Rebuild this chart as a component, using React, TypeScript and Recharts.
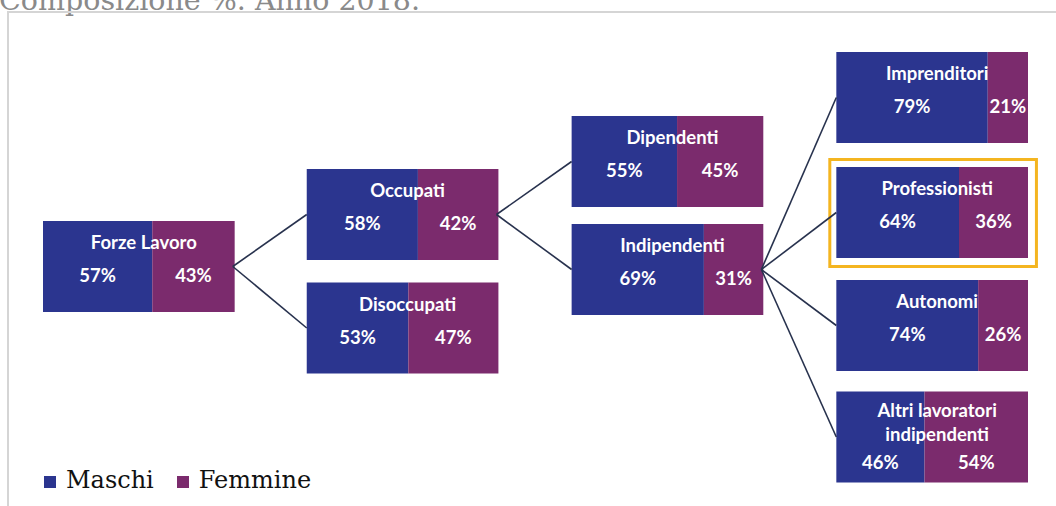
import React from 'react';
import { ComposedChart, XAxis, YAxis, Bar, ReferenceArea, ReferenceLine, Legend } from 'recharts';

// dati: composizione % per sesso, anno 2018
const categorie = [
  'Forze Lavoro', 'Occupati', 'Disoccupati', 'Dipendenti', 'Indipendenti',
  'Imprenditori', 'Professionisti', 'Autonomi', 'Altri lavoratori indipendenti',
];
const maschi = [57, 58, 53, 55, 69, 79, 64, 74, 46];
const femmine = [43, 42, 47, 45, 31, 21, 36, 26, 54];
const genitore = [-1, 0, 0, 1, 1, 4, 4, 4, 4];
const serie = ['Maschi', 'Femmine'];

// layout dello schema ad albero (unità degli assi)
const colonna = [0, 1, 1, 2, 2, 3, 3, 3, 3];
const inizioColonna = [0, 137.6, 275.8, 413.9];
const centroY = [266.5, 214.5, 328, 161.5, 269.5, 97.5, 212.5, 325.5, 437];
const ALTEZZA = 91;
const evidenziato = 6;

const BLU = '#2b358f';
const VIOLA = '#7b2b6d';
const FONT = 'Lato, "Open Sans", sans-serif';

const righe = (nome: string) => {
  const p = nome.split(' ');
  return nome.length > 16 ? [p.slice(0, 2).join(' '), p.slice(2).join(' ')] : [nome];
};

function Pct(props: any) {
  const { viewBox, value, dy } = props;
  const { x, y, width, height } = viewBox;
  return (
    <text x={x + width / 2} y={y + height / 2 + dy} textAnchor="middle" fill="#fff"
      fontFamily={FONT} fontWeight={700} fontSize={18.5}>{value}</text>
  );
}

function Nome(props: any) {
  const { viewBox, value } = props;
  const { x, y, width, height } = viewBox;
  const linee = righe(value);
  const off = linee.length > 1 ? [-20, 4] : [-17.5];
  return (
    <g>
      {linee.map((l, i) => (
        <text key={i} x={x + width / 2 + 5} y={y + height / 2 + off[i]} textAnchor="middle" fill="#fff"
          fontFamily={FONT} fontWeight={700} fontSize={18.5}>{l}</text>
      ))}
    </g>
  );
}

function LegendaContenuto(props: any) {
  const voci = [...(props.payload || [])].sort((a: any, b: any) => serie.indexOf(a.value) - serie.indexOf(b.value));
  return (
    <div style={{ display: 'flex', alignItems: 'center', fontFamily: '"DejaVu Serif", serif', fontSize: 24, color: '#111' }}>
      {voci.map((e: any) => (
        <div key={e.value} style={{ display: 'flex', alignItems: 'center', marginRight: 23 }}>
          <span style={{ width: 12, height: 12, background: e.color, display: 'inline-block', marginRight: 10, marginTop: 4 }} />
          <span>{e.value}</span>
        </div>
      ))}
    </div>
  );
}

export default function App() {
  return (
    <div style={{ position: 'absolute', left: 0, top: 0, width: 1056, height: 506, overflow: 'hidden', background: '#fff' }}>
      <div style={{ position: 'absolute', left: -1, top: -14.5, fontFamily: '"DejaVu Serif", serif', fontSize: 28.5, lineHeight: '29px', color: '#8a8a8a', whiteSpace: 'nowrap' }}>
        Composizione %. Anno 2018.
      </div>
      <div style={{ position: 'absolute', left: 7, top: 11, width: 1060, height: 510, borderTop: '2px solid #d5d5d5', borderLeft: '2px solid #d5d5d5' }} />
      <div style={{ position: 'absolute', left: 0, top: 0 }}>
        <ComposedChart width={1056} height={506} data={[]} margin={{ top: 0, right: 28, bottom: 0, left: 43 }}>
          <XAxis type="number" dataKey="x" domain={[0, 513.9]} hide allowDataOverflow />
          <YAxis type="number" domain={[0, 506]} reversed hide allowDataOverflow />
          <Bar dataKey="m" name={serie[0]} fill={BLU} isAnimationActive={false} />
          <Bar dataKey="f" name={serie[1]} fill={VIOLA} isAnimationActive={false} />
          {categorie.map((_, i) => {
            const p = genitore[i];
            if (p < 0) return null;
            return (
              <ReferenceLine key={'l' + i} stroke="#28324e" strokeWidth={1.6} ifOverflow="visible"
                segment={[
                  { x: inizioColonna[colonna[p]] + 99, y: centroY[p] },
                  { x: inizioColonna[colonna[i]], y: centroY[i] },
                ]} />
            );
          })}
          {categorie.map((nome, i) => {
            const x0 = inizioColonna[colonna[i]];
            const y1 = centroY[i] - ALTEZZA / 2;
            const y2 = centroY[i] + ALTEZZA / 2;
            const dy = righe(nome).length > 1 ? 32 : 15.5;
            return [
              <ReferenceArea key={'m' + i} x1={x0} x2={x0 + maschi[i]} y1={y1} y2={y2} ifOverflow="visible"
                fill={BLU} fillOpacity={1} stroke="none"
                label={<Pct value={maschi[i] + '%'} dy={dy} />} />,
              <ReferenceArea key={'f' + i} x1={x0 + maschi[i]} x2={x0 + maschi[i] + femmine[i]} y1={y1} y2={y2} ifOverflow="visible"
                fill={VIOLA} fillOpacity={1} stroke="none"
                label={<Pct value={femmine[i] + '%'} dy={dy} />} />,
              <ReferenceArea key={'n' + i} x1={x0} x2={x0 + 100} y1={y1} y2={y2} ifOverflow="visible"
                fill="none" fillOpacity={0} stroke="none"
                label={<Nome value={nome} />} />,
            ];
          })}
          <ReferenceArea ifOverflow="visible"
            x1={inizioColonna[colonna[evidenziato]] - 3.4} x2={inizioColonna[colonna[evidenziato]] + 104.4}
            y1={centroY[evidenziato] - 53} y2={centroY[evidenziato] + 54}
            fill="none" fillOpacity={0} stroke="#f4b520" strokeWidth={3} />
          <Legend content={<LegendaContenuto />} layout="horizontal" verticalAlign="middle" align="center"
            wrapperStyle={{ left: 44, top: 466, width: 'auto' }} />
        </ComposedChart>
      </div>
    </div>
  );
}
